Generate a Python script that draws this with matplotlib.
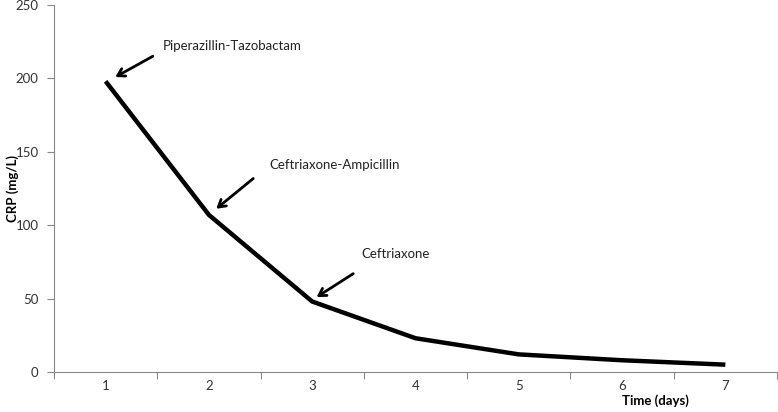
import matplotlib
matplotlib.use("Agg")
import matplotlib.pyplot as plt

days = [1, 2, 3, 4, 5, 6, 7]
crp = [198, 107, 48, 23, 12, 8, 5]
ann_labels = ["Piperazillin-Tazobactam", "Ceftriaxone-Ampicillin", "Ceftriaxone"]
ann_text_pos = [(1.55, 218), (2.59, 137), (3.48, 76)]
yticks = [0, 50, 100, 150, 200, 250]

plt.rcParams['font.family'] = ['Lato', 'DejaVu Sans']
fig = plt.figure(figsize=(7.78, 4.12), dpi=100)
ax = fig.add_axes([54/778, 40/412, 723/778, 367/412])

ax.plot(days, crp, color='black', lw=3.2, solid_capstyle='butt', solid_joinstyle='round')
ax.set_xlim(0.5, 7.5)
ax.set_ylim(0, 250)
ax.set_yticks(yticks)
ax.set_xticks(days)
ax.set_xticks([d + 0.5 for d in [0] + days], minor=True)
ax.tick_params(axis='x', which='major', length=0, pad=6, labelsize=9.5, colors='#333333')
ax.tick_params(axis='x', which='minor', length=5, color='#888888', width=0.8)
ax.tick_params(axis='y', which='major', length=5, color='#888888', width=0.8, labelsize=9.5, labelcolor='#333333', pad=6)
for s in ['top', 'right']:
    ax.spines[s].set_visible(False)
for s in ['left', 'bottom']:
    ax.spines[s].set_color('#888888')
    ax.spines[s].set_linewidth(0.8)

for lab, (tx, ty) in zip(ann_labels, ann_text_pos):
    ax.text(tx, ty, lab, fontsize=9.5, color='#222222', ha='left', va='bottom')

arrow_tails = [(1.48, 216), (2.45, 133), (3.42, 68)]
arrow_heads = [(1.07, 200), (2.05, 110), (3.02, 50)]
for (hx, hy), (tx, ty) in zip(arrow_heads, arrow_tails):
    ax.annotate("", xy=(hx, hy), xytext=(tx, ty),
                arrowprops=dict(arrowstyle='->,head_length=0.5,head_width=0.3', color='black', lw=2))

fig.text(13/778, 0.5 + (412/2 - 188)/412, "CRP (mg/L)", rotation=90, fontsize=9.5,
         fontweight='bold', ha='center', va='center')
ax.text(6.32, -0.06, "Time (days)", transform=ax.get_xaxis_transform(), fontsize=9.5,
        fontweight='bold', ha='center', va='top')

fig.savefig("out.png", dpi=100)
